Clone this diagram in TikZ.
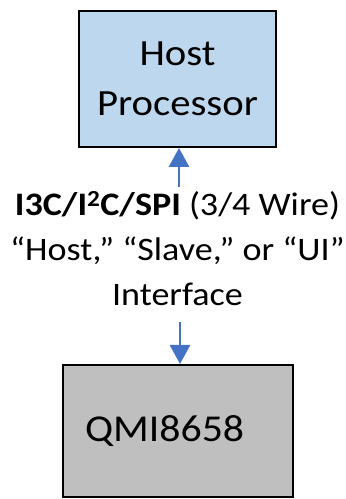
\documentclass[tikz,border=0pt]{standalone}
\usepackage{fontspec}
\setmainfont[FakeStretch=1.1]{Carlito}
\usepackage{tikz}
\usetikzlibrary{arrows.meta, positioning}
\definecolor{hostblue}{HTML}{BDD7EE}
\definecolor{chipgray}{HTML}{BFBFBF}
\definecolor{linkblue}{HTML}{4472C4}
\tikzset{
  block/.style={draw=black, line width=2pt, inner sep=0pt},
  link/.style={draw=linkblue, line width=2.8pt, -{Triangle[length=19pt, width=20pt]}},
  x=1pt, y=1pt
}
\begin{document}
\begin{tikzpicture}
\useasboundingbox (0,0) rectangle (346,499);
\node[block, fill=hostblue, minimum width=197pt, minimum height=136pt,
      align=center, font=\fontsize{37}{50}\selectfont] (host) at (177.5,420)
      {Host\\Processor};
\node[block, fill=chipgray, minimum width=230pt, minimum height=132pt,
      text width=186pt, inner xsep=22pt, align=left,
      font=\fontsize{38}{44}\selectfont] (qmi) at (178,68) {QMI8658};
\node[align=center, font=\fontsize{32.8}{45}\selectfont, inner sep=0pt] (iface) at (177.5,250)
      {\textbf{I3C/I\textsuperscript{2}C/SPI} (3/4 Wire)\\“Host,” “Slave,” or “UI”\\Interface};
\coordinate (up) at (179,312);
\coordinate (down) at (180,177);
\draw[link] (up) -- (up |- host.south);
\draw[link] (down) -- (down |- qmi.north);
\end{tikzpicture}
\end{document}
